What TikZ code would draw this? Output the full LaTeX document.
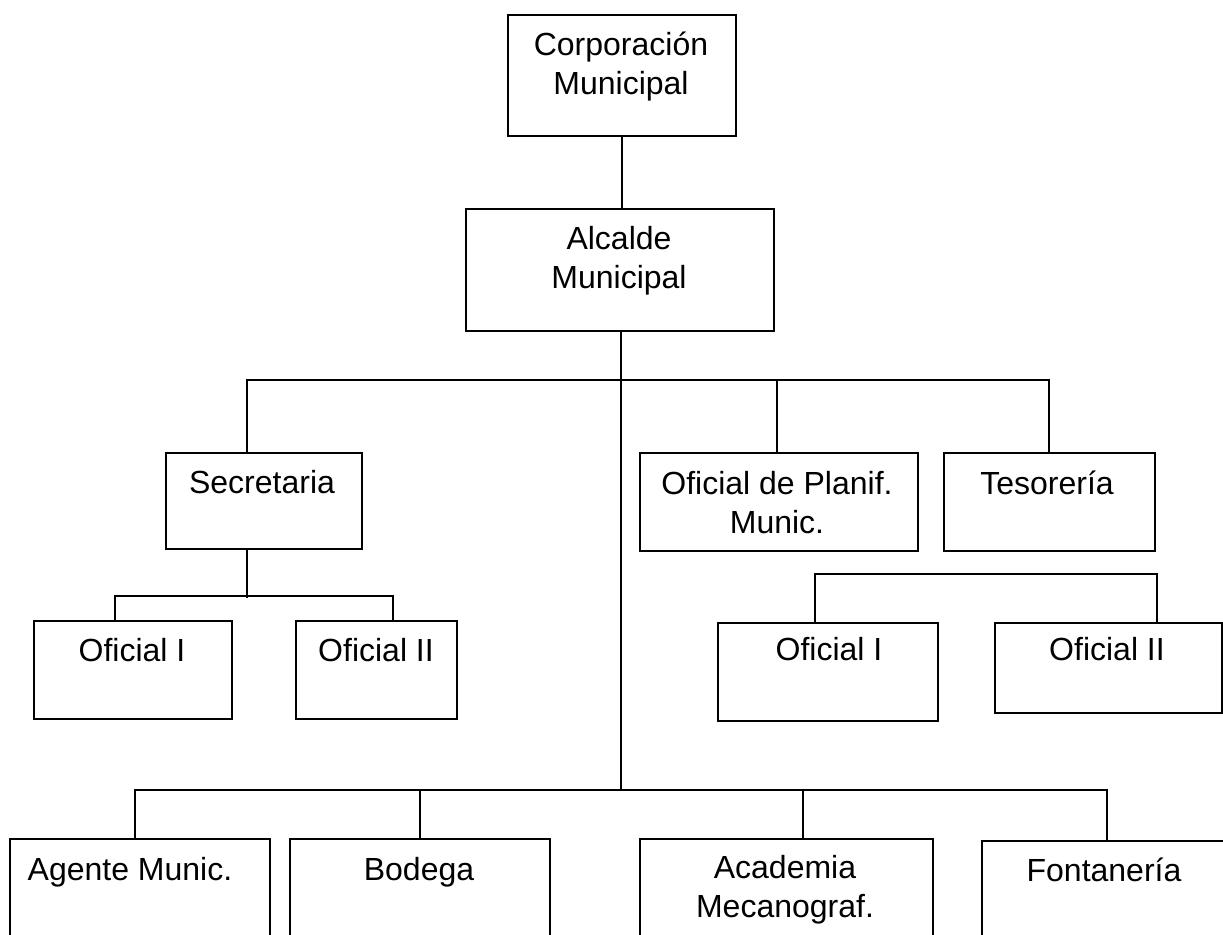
\documentclass[tikz,border=0pt]{standalone}
\usepackage{fontspec}
\setmainfont{Liberation Sans}
\usetikzlibrary{calc}
\newcommand\topstrut{\rule{0pt}{16pt}}
\tikzset{
  bx/.style n args={2}{draw, line width=1pt, inner sep=0pt, anchor=north west,
    minimum width=#1*0.5pt, minimum height=#2*0.5pt},
  txt/.style={inner sep=0pt, anchor=north, align=center,
    font=\fontsize{16}{19.5}\selectfont},
  conn/.style={line width=1pt}
}
\begin{document}
\begin{tikzpicture}[x=0.5pt, y=-0.5pt]
\useasboundingbox (0,0) rectangle (1223,935);
\clip (0,0) rectangle (1223,935);
\fill[white] (0,0) rectangle (1223,935);

% boxes
\node[bx={228}{121}] (corp) at (507,14) {};
\node[bx={308}{122}] (alc) at (465,208) {};
\node[bx={196}{96}] (sec) at (165,452) {};
\node[bx={278}{98}] (plan) at (639,452) {};
\node[bx={211}{98}] (tes) at (943,452) {};
\node[bx={198}{98}] (ofiL) at (33,620) {};
\node[bx={161}{98}] (ofiiL) at (295,620) {};
\node[bx={220}{98}] (ofiR) at (717,622) {};
\node[bx={227}{90}] (ofiiR) at (994,622) {};
\node[bx={260}{130}] (agente) at (9,838) {};
\node[bx={260}{130}] (bodega) at (289,838) {};
\node[bx={293}{130}] (acad) at (639,838) {};
\node[bx={247}{130}] (fonta) at (981,840) {};

% texts (first baseline 41px below box top)
\node[txt] (corpT) at (621,23) {\topstrut Corporación\\Municipal};
\node[txt] (alcT) at (619,217) {\topstrut Alcalde\\Municipal};
\node[txt] (secT) at (262,461) {\topstrut Secretaria};
\node[txt] (planT) at (777,462) {\topstrut Oficial de Planif.\\Munic.};
\node[txt] (tesT) at (1047,462) {\topstrut Tesorería};
\node[txt] (ofiLT) at (132,629) {\topstrut Oficial I};
\node[txt] (ofiiLT) at (376,629) {\topstrut Oficial II};
\node[txt] (ofiRT) at (829,628) {\topstrut Oficial I};
\node[txt] (ofiiRT) at (1107,628) {\topstrut Oficial II};
\node[txt] (agenteT) at (130,848) {\topstrut Agente Munic.};
\node[txt] (bodegaT) at (419,848) {\topstrut Bodega};
\node[txt] (acadT) at (785,846) {\topstrut Academia\\Mecanograf.};
\node[txt] (fontaT) at (1104,849) {\topstrut Fontanería};

% connectors
\coordinate (busA) at (621,380);
\coordinate (busB) at (621,790);
\draw[conn] (corp.south) -- (corp.south |- alc.north);
\draw[conn] (busA |- alc.south) -- (busB);
\draw[conn] ($(sec.north west)+(82,0)$) |- ($(tes.north west)+(106,-72)$) -- ($(tes.north west)+(106,0)$);
\draw[conn] ($(plan.north west)+(138,0)$) -- ($(plan.north west)+(138,-72)$);
\draw[conn] ($(sec.south west)+(82,0)$) -- ($(sec.south west)+(82,48)$);
\draw[conn] ($(ofiL.north west)+(82,0)$) |- ($(ofiiL.north west)+(98,-24)$) -- ($(ofiiL.north west)+(98,0)$);
\draw[conn] ($(ofiR.north west)+(98,0)$) |- ($(ofiiR.north west)+(163,-48)$) -- ($(ofiiR.north west)+(163,0)$);
\draw[conn] ($(agente.north west)+(126,0)$) |- ($(fonta.north west)+(126,-50)$) -- ($(fonta.north west)+(126,0)$);
\draw[conn] (bodega.north) -- ($(bodega.north)+(0,-48)$);
\draw[conn] ($(acad.north west)+(164,0)$) -- ($(acad.north west)+(164,-48)$);
\end{tikzpicture}
\end{document}
